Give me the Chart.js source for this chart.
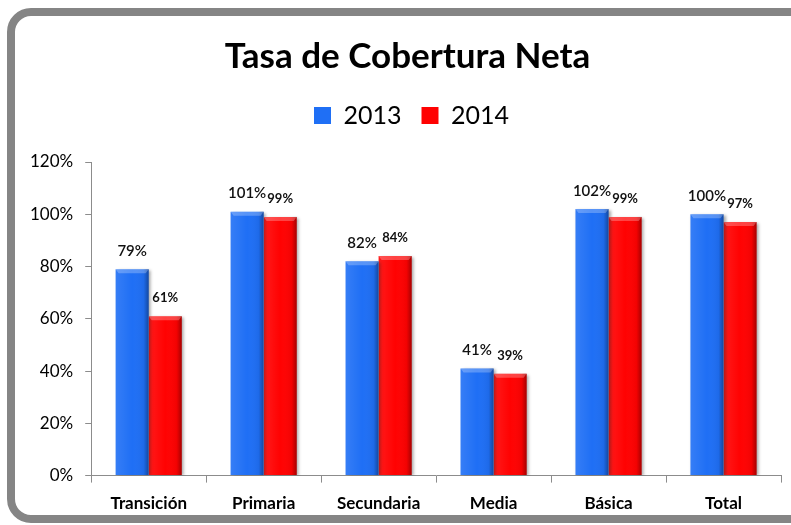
<!DOCTYPE html>
<html>
<head>
<meta charset="utf-8">
<script src="https://cdn.jsdelivr.net/npm/chart.js@4.4.1/dist/chart.umd.min.js"></script>
<style>
  html, body { margin: 0; padding: 0; background: #fff; overflow: hidden; }
  #wrap { position: relative; width: 791px; height: 525px; }
  #frame {
    position: absolute; left: 7px; top: 8px; width: 800px; height: 499px;
    border: 8px solid #858585; border-radius: 24px; box-sizing: content-box;
  }
  #c { position: absolute; left: 0; top: 0; }
</style>
</head>
<body>
<div id="wrap">
  <div id="frame"></div>
  <canvas id="c" width="791" height="525"></canvas>
</div>
<script>
// ── Data ────────────────────────────────────────────────────────────
const categories = ['Transición', 'Primaria', 'Secundaria', 'Media', 'Básica', 'Total'];
const seriesNames = ['2013', '2014'];
const values2013 = [79, 101, 82, 41, 102, 100];
const values2014 = [61, 99, 84, 39, 99, 97];
const yTicks = [0, 20, 40, 60, 80, 100, 120];

const FONT = 'Lato, "Open Sans", sans-serif';
const BLUE = '#1f6ff5';
const RED = '#ff0202';

// extra room under the legend, and nudge title/legend a bit right like the original
const headerTweak = {
  id: 'headerTweak',
  beforeInit(chart) {
    const lg = chart.legend;
    const fit = lg.fit;
    lg.fit = function () { fit.call(this); this.height += 24; };
  },
  afterLayout(chart) {
    const t = chart.titleBlock, lg = chart.legend;
    t.left += 8; t.right += 8;
    lg.left += 12; lg.right += 12;
  }
};

// soft drop shadow behind the bars
const barShadow = {
  id: 'barShadow',
  beforeDatasetDraw(chart) {
    const ctx = chart.ctx;
    ctx.save();
    ctx.shadowColor = 'rgba(0,0,0,0.35)';
    ctx.shadowBlur = 3;
    ctx.shadowOffsetX = 2;
    ctx.shadowOffsetY = 1;
  },
  afterDatasetDraw(chart) { chart.ctx.restore(); }
};

// bevel look: dark right edge, light top cap
const barBevel = {
  id: 'barBevel',
  afterDatasetsDraw(chart) {
    const ctx = chart.ctx;
    chart.data.datasets.forEach((ds, di) => {
      chart.getDatasetMeta(di).data.forEach(bar => {
        const { x, y, base, width } = bar.getProps(['x', 'y', 'base', 'width'], true);
        const l = x - width / 2, r = x + width / 2;
        const g = ctx.createLinearGradient(l, 0, r, 0);
        g.addColorStop(0, 'rgba(255,255,255,0.10)');
        g.addColorStop(0.5, 'rgba(255,255,255,0)');
        g.addColorStop(0.85, 'rgba(0,0,0,0.05)');
        g.addColorStop(1, 'rgba(0,0,0,0.35)');
        ctx.save();
        ctx.fillStyle = g;
        ctx.fillRect(l, y, width, base - y);
        // top cap
        ctx.fillStyle = 'rgba(255,255,255,0.25)';
        ctx.beginPath();
        ctx.moveTo(l, y);
        ctx.lineTo(r, y);
        ctx.lineTo(r - 3, y + 4);
        ctx.lineTo(l + 3, y + 4);
        ctx.closePath();
        ctx.fill();
        ctx.restore();
      });
    });
  }
};

// value labels above each bar
const valueLabels = {
  id: 'valueLabels',
  afterDatasetsDraw(chart) {
    const ctx = chart.ctx;
    ctx.save();
    ctx.fillStyle = '#111';
    ctx.textAlign = 'center';
    ctx.textBaseline = 'middle';
    chart.data.datasets.forEach((ds, di) => {
      ctx.font = di === 0 ? `600 15px ${FONT}` : `bold 13px ${FONT}`;
      chart.getDatasetMeta(di).data.forEach((bar, i) => {
        ctx.fillText(ds.data[i] + '%', bar.x, bar.y - 18);
      });
    });
    ctx.restore();
  }
};

new Chart(document.getElementById('c'), {
  type: 'bar',
  data: {
    labels: categories,
    datasets: [
      { label: seriesNames[0], data: values2013, backgroundColor: BLUE },
      { label: seriesNames[1], data: values2014, backgroundColor: RED }
    ]
  },
  options: {
    responsive: false,
    animation: false,
    events: [],
    categoryPercentage: 0.575,
    barPercentage: 1,
    layout: { padding: { left: 18, right: 10, top: 36, bottom: 0 } },
    plugins: {
      title: {
        display: true,
        text: 'Tasa de Cobertura Neta',
        color: '#000',
        font: { family: FONT, size: 35, weight: 'bold' },
        padding: { top: 0, bottom: 5 }
      },
      legend: {
        display: true,
        labels: {
          color: '#000',
          font: { family: FONT, size: 25 },
          boxWidth: 17,
          boxHeight: 17,
          padding: 20
        }
      },
      tooltip: { enabled: false }
    },
    scales: {
      x: {
        grid: { drawOnChartArea: false, tickLength: 7, color: '#8c8c8c' },
        border: { color: '#8c8c8c' },
        ticks: { color: '#000', font: { family: FONT, size: 17, weight: 'bold' }, padding: 11 }
      },
      y: {
        min: 0,
        max: 120,
        afterBuildTicks: axis => { axis.ticks = yTicks.map(v => ({ value: v })); },
        grid: { drawOnChartArea: false, tickLength: 6, color: '#8c8c8c' },
        border: { color: '#8c8c8c' },
        ticks: { color: '#000', font: { family: FONT, size: 17 }, padding: 12, callback: v => v + '%' }
      }
    }
  },
  plugins: [headerTweak, barShadow, barBevel, valueLabels]
});
</script>
</body>
</html>
